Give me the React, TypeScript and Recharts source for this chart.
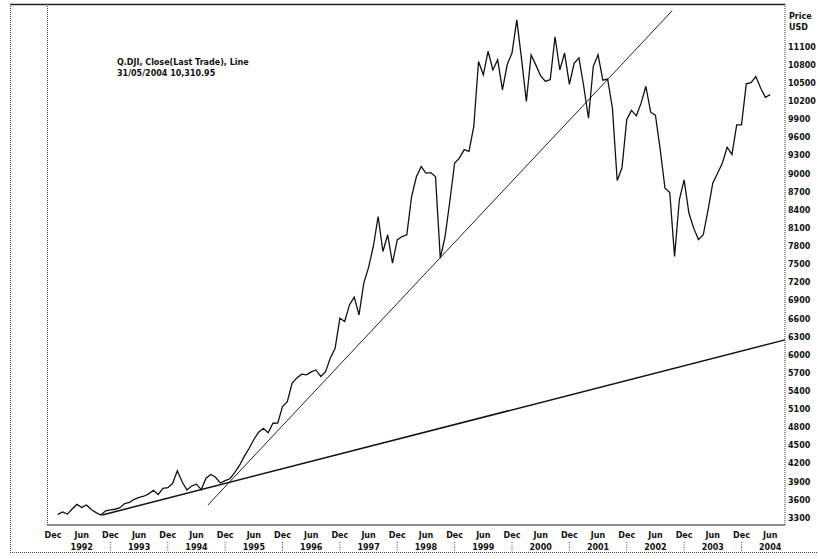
import { LineChart, Line, XAxis, YAxis, ReferenceLine } from 'recharts'

// month-end closes, first one is Dec 1991
const close1991 = [3360]
const close1992 = [3400, 3365, 3450, 3525, 3475, 3515, 3440, 3390, 3350, 3420, 3433, 3445]
const close1993 = [3470, 3540, 3560, 3610, 3643, 3660, 3700, 3760, 3690, 3790, 3802, 3870]
const close1994 = [4084, 3900, 3764, 3830, 3860, 3770, 3960, 4020, 3975, 3880, 3920, 3950]
const close1995 = [4050, 4170, 4320, 4450, 4600, 4720, 4786, 4713, 4869, 4870, 5144, 5227]
const close1996 = [5532, 5620, 5681, 5670, 5720, 5752, 5642, 5724, 5950, 6111, 6609, 6554]
const close1997 = [6829, 6957, 6664, 7189, 7450, 7800, 8293, 7713, 7990, 7520, 7906, 7961]
const close1998 = [7990, 8624, 8950, 9121, 9012, 9020, 8950, 7603, 7960, 8550, 9180, 9260]
const close1999 = [9400, 9370, 9780, 10860, 10640, 11030, 10720, 10890, 10390, 10810, 11000, 11550]
const close2000 = [10900, 10200, 10970, 10800, 10620, 10530, 10560, 11270, 10720, 11000, 10480, 10830]
const close2001 = [10920, 10450, 9920, 10780, 10970, 10550, 10570, 10090, 8890, 9095, 9900, 10050]
const close2002 = [9960, 10170, 10450, 10020, 9970, 9400, 8760, 8690, 7630, 8570, 8900, 8350]
const close2003 = [8100, 7910, 7990, 8400, 8850, 9010, 9180, 9440, 9320, 9810, 9810, 10490]
const close2004 = [10510, 10610, 10420, 10265, 10311]

// trend lines drawn on the chart (t = months after Dec 1991)
const steepTrend = [{ t: 32.4, v: 3515 }, { t: 129.5, v: 11700 }]
const flatTrend = [{ t: 10.3, v: 3350 }, { t: 153.1, v: 6250 }]

const xTicks = [0, 6, 12, 18, 24, 30, 36, 42, 48, 54, 60, 66, 72, 78, 84, 90, 96, 102, 108, 114, 120, 126, 132, 138, 144, 150]
const monthNames = ['Dec', 'Jun']
const yearLabels = ['1992', '1993', '1994', '1995', '1996', '1997', '1998', '1999', '2000', '2001', '2002', '2003', '2004']
const yTicks = [3300, 3600, 3900, 4200, 4500, 4800, 5100, 5400, 5700, 6000, 6300, 6600, 6900, 7200, 7500, 7800, 8100, 8400, 8700, 9000, 9300, 9600, 9900, 10200, 10500, 10800, 11100]

const closes = [
  ...close1991, ...close1992, ...close1993, ...close1994, ...close1995, ...close1996, ...close1997,
  ...close1998, ...close1999, ...close2000, ...close2001, ...close2002, ...close2003, ...close2004,
]
const data = closes.map((close, i) => ({ t: i + 1, close }))

const font = { fontFamily: '"DejaVu Sans", Verdana, sans-serif', fontWeight: 700, fontSize: 8 }

function DateTick({ x, y, payload }: any) {
  const t = payload.value as number
  const isDec = t % 12 === 0
  const year = yearLabels[Math.floor(t / 12)]
  return (
    <g>
      <text x={x} y={y + 13} textAnchor="middle" fill="#111" {...font}>
        {isDec ? monthNames[0] : monthNames[1]}
      </text>
      {!isDec && (
        <text x={x} y={y + 25} textAnchor="middle" fill="#111" {...font}>
          {year}
        </text>
      )}
      {isDec && t > 0 && t < 150 && (
        <line x1={x} x2={x} y1={y + 17} y2={y + 26} stroke="#444" strokeDasharray="1 1.5" />
      )}
    </g>
  )
}

function PriceTick({ x, y, payload }: any) {
  return (
    <text x={x} y={y} dy="0.35em" textAnchor="start" fill="#111" {...font}>
      {payload.value}
    </text>
  )
}

export default function App() {
  return (
    <div style={{ position: 'absolute', left: 0, top: 0, width: 818, height: 559, background: '#fff' }}>
      <LineChart width={818} height={559} data={data} margin={{ top: 4, right: 0, left: 47, bottom: 0 }}>
        <XAxis
          dataKey="t"
          type="number"
          domain={[-1.26, 153.1]}
          allowDataOverflow
          ticks={xTicks}
          interval={0}
          height={34}
          tickSize={0}
          tickMargin={0}
          tickLine={false}
          axisLine={{ stroke: '#222', strokeWidth: 1.2 }}
          tick={<DateTick />}
        />
        <YAxis
          orientation="right"
          type="number"
          domain={[3184, 11812]}
          allowDataOverflow
          ticks={yTicks}
          interval={0}
          width={33}
          tickSize={0}
          tickMargin={3}
          tickLine={false}
          axisLine={{ stroke: '#333', strokeDasharray: '1 1' }}
          tick={<PriceTick />}
        />
        <ReferenceLine
          segment={[{ x: steepTrend[0].t, y: steepTrend[0].v }, { x: steepTrend[1].t, y: steepTrend[1].v }]}
          stroke="#222"
          strokeWidth={1}
          ifOverflow="visible"
        />
        <ReferenceLine
          segment={[{ x: flatTrend[0].t, y: flatTrend[0].v }, { x: flatTrend[1].t, y: flatTrend[1].v }]}
          stroke="#111"
          strokeWidth={1.5}
          ifOverflow="visible"
        />
        <Line
          type="linear"
          dataKey="close"
          stroke="#111"
          strokeWidth={1.3}
          dot={false}
          isAnimationActive={false}
        />
      </LineChart>
      <svg
        width={818}
        height={559}
        style={{ position: 'absolute', left: 0, top: 0, pointerEvents: 'none' }}
      >
        <line x1={10} x2={785} y1={4.5} y2={4.5} stroke="#222" strokeWidth={1.5} />
        <line x1={10.5} x2={10.5} y1={4} y2={553} stroke="#444" strokeDasharray="1 1" />
        <line x1={47.5} x2={47.5} y1={4} y2={525} stroke="#444" strokeDasharray="1 1" />
        <line x1={10} x2={818} y1={552.5} y2={552.5} stroke="#444" strokeDasharray="1 1" />
        <text x={789} y={19} fill="#111" {...font}>Price</text>
        <text x={789} y={30} fill="#111" {...font}>USD</text>
        <text x={117} y={65} fill="#111" {...font}>Q.DJI, Close(Last Trade), Line</text>
        <text x={117} y={76} fill="#111" {...font}>31/05/2004 10,310.95</text>
      </svg>
    </div>
  )
}
